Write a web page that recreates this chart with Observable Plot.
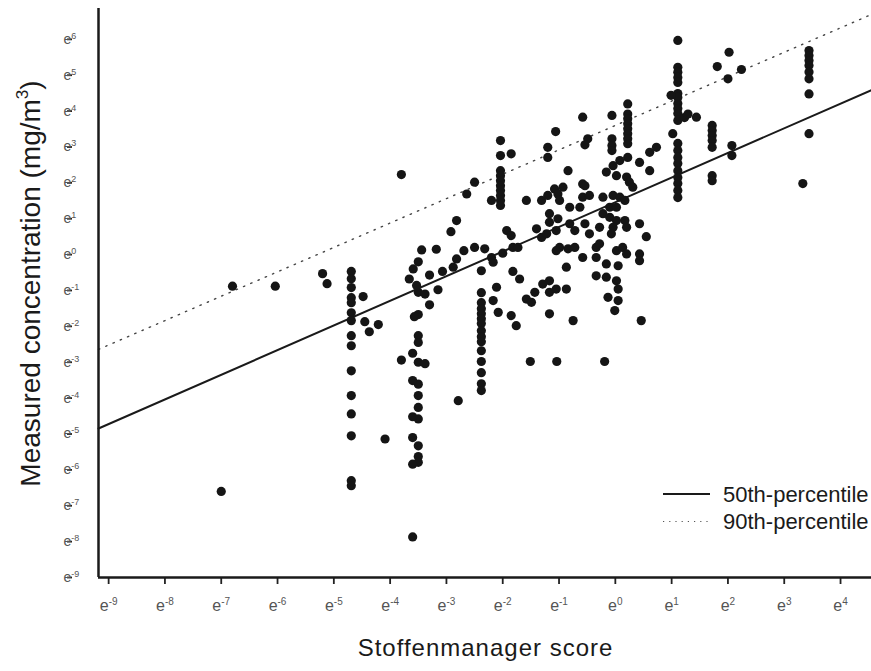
<!DOCTYPE html>
<html>
<head>
<meta charset="utf-8">
<script src="https://cdn.jsdelivr.net/npm/d3@7"></script>
<script src="https://cdn.jsdelivr.net/npm/@observablehq/plot@0.6"></script>
<style>
  body { margin: 0; background: #fff; }
  #chart { position: relative; width: 871px; height: 671px; }
</style>
</head>
<body>
<div id="chart"></div>
<script>
// Tick exponents (labels drawn as e^n)
const xTicks = [-9, -8, -7, -6, -5, -4, -3, -2, -1, 0, 1, 2, 3, 4];
const yTicks = [-9, -8, -7, -6, -5, -4, -3, -2, -1, 0, 1, 2, 3, 4, 5, 6];

// Vertical columns of measurements sharing one Stoffenmanager score (ln values)
const columnScore = [-4.69, -3.50, -2.38, -2.04, 0.22, -0.06, 1.11, 1.72, 3.44];
const columnConc = [
  [-0.47, -0.67, -0.92, -1.20, -1.34, -1.62, -1.84, -2.26, -2.54, -3.24, -3.93, -4.44, -5.05, -6.30, -6.44],
  [-0.20, -1.05, -1.67, -2.26, -2.45, -3.00, -3.61, -3.93, -4.26, -4.58, -5.33, -5.63, -5.79],
  [-0.45, -1.06, -1.34, -1.51, -1.65, -1.79, -1.92, -2.12, -2.29, -2.43, -2.68, -2.98, -3.29, -3.60, -3.79],
  [3.18, 2.76, 2.34, 2.20, 2.06, 1.92, 1.79, 1.65, 1.51, 1.37],
  [4.20, 3.92, 3.79, 3.65, 3.51, 3.37, 3.23, 3.09, 2.71],
  [3.88, 3.23, 3.04, 2.90],
  [5.97, 5.22, 5.08, 4.94, 4.80, 4.49, 4.38, 4.21, 4.07, 3.93, 3.74, 3.10, 2.90, 2.71, 2.54, 2.34, 2.15, 1.98, 1.79, 1.59],
  [3.60, 3.46, 3.32, 3.18, 2.99, 2.20, 2.06],
  [5.69, 5.55, 5.41, 5.27, 5.09, 4.90, 4.48, 3.37]
];

// Remaining measurements: [ln score, ln concentration]
const scatterPoints = [
  [-7.00, -6.60], [-6.80, -0.88], [-6.04, -0.88], [-5.20, -0.53], [-5.12, -0.81],
  [-4.48, -1.17], [-4.45, -1.87], [-4.37, -2.15], [-4.21, -1.95], [-4.09, -5.14],
  [-3.80, 2.23], [-3.80, -2.94], [-3.60, -7.87],
  [-3.59, -0.40], [-3.66, -0.68], [-3.53, -0.86], [-3.38, -1.10], [-3.30, -1.40], [-3.57, -1.73],
  [-3.60, -2.75], [-3.38, -3.04], [-3.60, -3.51], [-3.60, -4.52], [-3.60, -5.10], [-3.60, -5.84],
  [-3.44, 0.13], [-3.18, 0.15], [-3.30, -0.57], [-3.07, -0.47], [-3.15, -0.98],
  [-2.92, 0.64], [-2.82, 0.95], [-2.64, 1.69], [-2.50, 2.02], [-2.69, 0.11], [-2.82, -0.12], [-2.88, -0.35], [-2.79, -4.07],
  [-2.50, 0.20], [-2.32, 0.16], [-1.85, 2.81], [-2.20, 1.51],
  [-2.20, -0.08], [-2.17, -0.21], [-2.00, 0.04], [-1.93, 0.67], [-1.85, 0.53], [-1.82, 0.20], [-1.73, 0.20],
  [-1.82, -0.47], [-1.70, -0.68], [-2.11, -0.91], [-2.17, -1.28], [-2.08, -1.61], [-1.85, -1.70], [-1.76, -1.98],
  [-1.40, 0.72], [-1.31, 0.48], [-1.58, 1.51], [-1.31, 1.51], [-1.20, 1.65], [-1.08, 1.83], [-1.02, 1.69],
  [-0.93, 1.88], [-0.99, 1.51], [-1.17, 1.14], [-1.17, 0.90], [-1.02, 1.00], [-1.05, 0.67], [-1.22, 0.58],
  [-0.81, 1.32], [-0.81, 0.86], [-0.99, 0.20], [-1.05, 0.11], [-0.84, 0.16], [-0.87, -0.35], [-1.29, -0.82],
  [-1.17, -0.73], [-1.17, -1.05], [-1.05, -0.96], [-0.87, -0.96], [-1.58, -1.24], [-1.49, -1.33], [-1.43, -1.05],
  [-1.17, -1.65], [-0.75, -1.84],
  [-0.84, 2.34], [-0.58, 1.97], [-0.58, 1.60], [-0.63, 1.32], [-0.54, 0.86], [-0.46, 0.58], [-0.34, 0.20],
  [-0.58, -0.08], [-0.34, -0.08],
  [-0.58, 3.83], [-1.06, 3.43], [-1.20, 2.99], [-1.20, 2.71], [-0.49, 3.23], [-0.54, 3.06],
  [-1.51, -2.98], [-1.04, -2.98], [-0.19, -2.98],
  [0.73, 2.99], [0.61, 2.85], [0.43, 2.57], [0.61, 2.34], [0.08, 2.62], [-0.04, 2.48], [-0.16, 2.30],
  [0.02, 2.20], [0.20, 2.16], [0.25, 2.02], [0.31, 1.88],
  [-0.54, 1.92], [-0.46, 1.65], [-0.22, 1.60], [-0.04, 1.65], [0.08, 1.60], [0.17, 1.51], [-0.10, 1.32],
  [0.02, 1.32], [-0.22, 1.14], [-0.10, 1.04], [0.02, 0.95], [0.17, 0.95], [-0.28, 0.76], [-0.04, 0.76],
  [0.20, 0.76], [-0.07, 0.58], [0.43, 0.86], [0.55, 0.50], [-0.28, 0.30], [0.02, 0.11], [0.13, 0.20],
  [0.20, 0.02], [-0.16, -0.26], [0.05, -0.31], [0.43, 0.02], [0.43, -0.17], [-0.34, -0.59], [-0.16, -0.63],
  [0.02, -0.73], [0.05, -0.96], [-0.13, -1.19], [0.05, -1.28], [-0.01, -1.56], [0.46, -1.84],
  [-0.72, 0.67], [-0.72, 0.20],
  [1.02, 3.37], [0.99, 4.44], [1.23, 3.82], [1.44, 3.83], [1.29, 3.92],
  [2.07, 3.04], [2.07, 2.76], [2.02, 5.64], [1.81, 5.24], [2.24, 5.16], [2.00, 4.90],
  [3.33, 1.98]
];

// Percentile regression lines on the ln-ln scale
const fitNames = ["50th-percentile", "90th-percentile"];
const fitIntercept = [1.46, 3.60];
const fitSlope = [0.687, 0.68];

const xDomain = [-9.18, 4.55];
const yDomain = [-9, 6.86];

const points = [];
columnScore.forEach((s, i) => columnConc[i].forEach(c => points.push({score: s, conc: c})));
scatterPoints.forEach(([s, c]) => points.push({score: s, conc: c}));

const fitLine = (k) => xDomain.map(x => ({score: x, conc: fitIntercept[k] + fitSlope[k] * x}));

const font = "'Liberation Sans', Arial, Helvetica, sans-serif";

const plot = Plot.plot({
  width: 871,
  height: 671,
  marginLeft: 98,
  marginRight: 0,
  marginTop: 8,
  marginBottom: 94,
  x: {domain: xDomain},
  y: {domain: yDomain},
  style: {fontFamily: font, background: "#fff", overflow: "visible"},
  marks: [
    Plot.axisY(yTicks, {
      tickSize: 5, tickPadding: 4, tickFormat: d => String(d),
      textAnchor: "start", dx: -26, fontSize: 14, fill: "#555", stroke: "#222", strokeWidth: 1.8, label: null
    }),
    Plot.axisX(xTicks, {
      tickSize: 7, tickPadding: 15, tickFormat: d => String(d),
      fontSize: 16, fill: "#555", stroke: "#222", strokeWidth: 1.8, label: null
    }),
    Plot.line(fitLine(1), {x: "score", y: "conc", stroke: "#444", strokeWidth: 1.4, strokeDasharray: "1.4 6.5", strokeLinecap: "round"}),
    Plot.line(fitLine(0), {x: "score", y: "conc", stroke: "#1a1a1a", strokeWidth: 2}),
    Plot.dot(points, {x: "score", y: "conc", r: 4.6, fill: "#151515", stroke: null}),
    Plot.ruleX([xDomain[0]], {stroke: "#1a1a1a", strokeWidth: 2.5}),
    Plot.ruleY([yDomain[0]], {stroke: "#1a1a1a", strokeWidth: 2.5})
  ]
});

// Turn tick labels into e with superscript exponents
const NS = "http://www.w3.org/2000/svg";
function superscriptLabels(selector, supSize, rise) {
  plot.querySelectorAll(selector).forEach(t => {
    const exp = t.textContent;
    t.textContent = "";
    const base = document.createElementNS(NS, "tspan");
    base.textContent = "e";
    const sup = document.createElementNS(NS, "tspan");
    sup.textContent = exp;
    sup.setAttribute("font-size", supSize);
    sup.setAttribute("dy", -rise);
    t.append(base, sup);
  });
}
superscriptLabels('g[aria-label="y-axis tick label"] text', 9, 5);
superscriptLabels('g[aria-label="x-axis tick label"] text', 10, 6);

const svg = d3.select(plot);
const xs = plot.scale("x"), ys = plot.scale("y");
const cx = (xs.range[0] + xs.range[1]) / 2;
const cy = (ys.range[0] + ys.range[1]) / 2;

// Axis titles
const yTitle = svg.append("text")
  .attr("transform", `translate(40,${cy - 9}) rotate(-90)`)
  .attr("text-anchor", "middle")
  .attr("font-family", font)
  .attr("font-size", 28)
  .attr("fill", "#1a1a1a");
yTitle.append("tspan").text("Measured concentration (mg/m");
yTitle.append("tspan").attr("font-size", 17).attr("dy", -12).text("3");
yTitle.append("tspan").attr("dy", 12).text(")");

svg.append("text")
  .attr("x", cx + 1)
  .attr("y", 656)
  .attr("text-anchor", "middle")
  .attr("font-family", font)
  .attr("font-size", 24)
  .attr("letter-spacing", 1)
  .attr("fill", "#1a1a1a")
  .text("Stoffenmanager score");

// Legend
const legend = svg.append("g").attr("font-family", font).attr("font-size", 22).attr("fill", "#1a1a1a");
const legendStyles = [
  {stroke: "#1a1a1a", width: 2, dash: null},
  {stroke: "#555", width: 1.2, dash: "1.2 5"}
];
fitNames.forEach((name, i) => {
  const y = 494 + i * 27.5;
  const st = legendStyles[i];
  legend.append("line").attr("x1", 663).attr("x2", 710).attr("y1", y).attr("y2", y)
    .attr("stroke", st.stroke).attr("stroke-width", st.width)
    .attr("stroke-dasharray", st.dash);
  legend.append("text").attr("x", 723).attr("y", y).attr("dy", "0.35em")
    .attr("text-anchor", "start")
    .text(name);
});

document.getElementById("chart").append(plot);
</script>
</body>
</html>
